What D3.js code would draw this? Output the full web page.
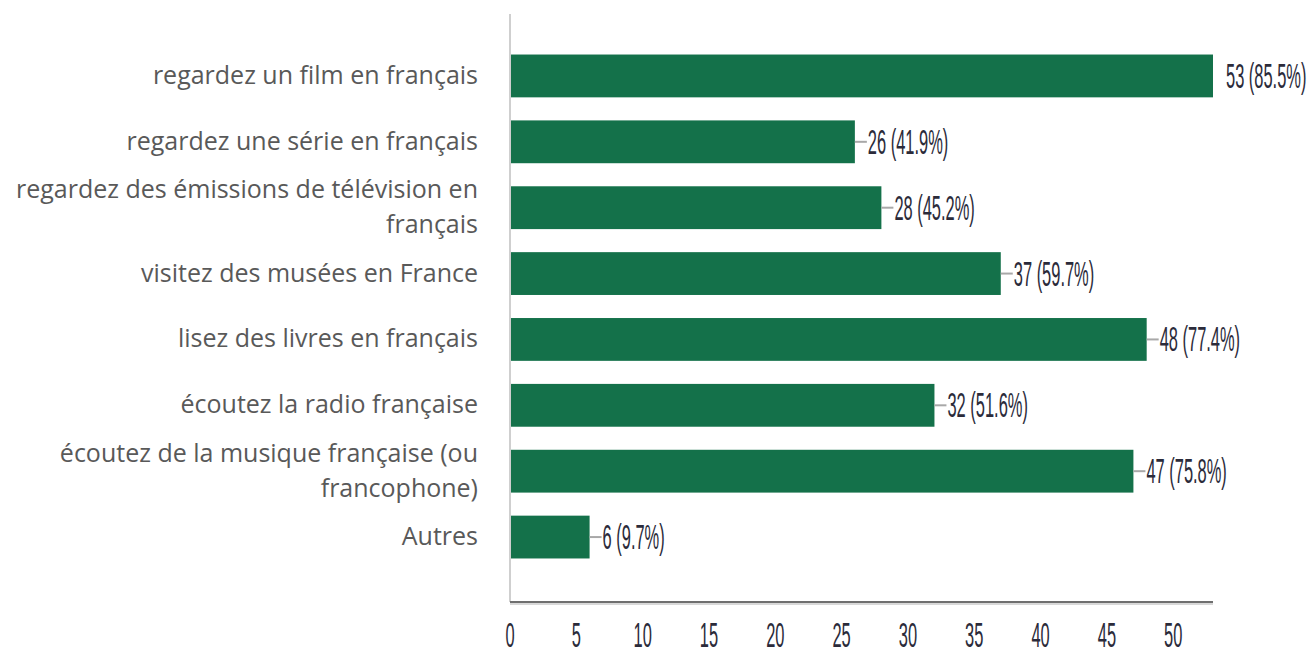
<!DOCTYPE html>
<html><head><meta charset="utf-8">
<script src="https://cdn.jsdelivr.net/npm/d3@7"></script>
<style>body{margin:0;background:#fff}svg{display:block}</style>
</head><body>
<svg id="c" width="1311" height="655"></svg>
<script>
const categories = [
  ["regardez un film en français"],
  ["regardez une série en français"],
  ["regardez des émissions de télévision en", "français"],
  ["visitez des musées en France"],
  ["lisez des livres en français"],
  ["écoutez la radio française"],
  ["écoutez de la musique française (ou", "francophone)"],
  ["Autres"]
];
const counts = [53, 26, 28, 37, 48, 32, 47, 6];
const percents = ["85.5%", "41.9%", "45.2%", "59.7%", "77.4%", "51.6%", "75.8%", "9.7%"];
const ticks = [0, 5, 10, 15, 20, 25, 30, 35, 40, 45, 50];

const svg = d3.select("#c");
const x = d3.scaleLinear().domain([0, 53]).range([510, 1213]);
const y = d3.scaleBand().domain(d3.range(categories.length)).range([43, 570]).paddingInner(0.35).paddingOuter(0.175);

// axis lines
svg.append("line").attr("x1", 510).attr("x2", 510).attr("y1", 14).attr("y2", 602)
  .attr("stroke", "#cfcfcf").attr("stroke-width", 2);
svg.append("line").attr("x1", 510).attr("x2", 1213).attr("y1", 604).attr("y2", 604)
  .attr("stroke", "#d8d8d8").attr("stroke-width", 2);
svg.append("line").attr("x1", 510).attr("x2", 1213).attr("y1", 602).attr("y2", 602)
  .attr("stroke", "#6f6f6f").attr("stroke-width", 2);

// bars
svg.selectAll("rect.bar").data(counts).join("rect")
  .attr("class", "bar")
  .attr("x", x(0) + 1)
  .attr("y", (d, i) => y(i))
  .attr("width", d => x(d) - x(0) - 1)
  .attr("height", y.bandwidth())
  .attr("fill", "#14714a");

// connectors
svg.selectAll("line.conn").data(counts).join("line")
  .attr("class", "conn")
  .attr("x1", d => x(d)).attr("x2", d => x(d) + 12)
  .attr("y1", (d, i) => y(i) + y.bandwidth() / 2)
  .attr("y2", (d, i) => y(i) + y.bandwidth() / 2)
  .attr("stroke", (d, i) => i === 0 ? "none" : "#a8a8a8").attr("stroke-width", 2);

// value labels (condensed)
svg.selectAll("text.val").data(counts).join("text")
  .attr("class", "val")
  .attr("transform", (d, i) => `translate(${x(d) + 13},${y(i) + y.bandwidth() / 2 + 12}) scale(0.47,1)`)
  .attr("font-family", "Liberation Sans, Arial, sans-serif")
  .attr("font-size", 35)
  .attr("fill", "#2b2b3a")
  .text((d, i) => `${d} (${percents[i]})`);

// tick labels
svg.selectAll("text.tick").data(ticks).join("text")
  .attr("class", "tick")
  .attr("transform", d => `translate(${x(d)},${647}) scale(0.47,1)`)
  .attr("text-anchor", "middle")
  .attr("font-family", "Liberation Sans, Arial, sans-serif")
  .attr("font-size", 35)
  .attr("fill", "#2b2b3a")
  .text(d => d);

// category labels
const lh = 35;
const g = svg.selectAll("text.cat").data(categories).join("text")
  .attr("class", "cat")
  .attr("text-anchor", "end")
  .attr("font-family", "Open Sans, sans-serif")
  .attr("font-size", 25)
  .attr("fill", "#595959");
g.each(function(lines, i) {
  const cy = y(i) + y.bandwidth() / 2;
  const t = d3.select(this);
  lines.forEach((ln, k) => {
    t.append("tspan").attr("x", 478)
      .attr("y", cy + 8 + (k - (lines.length - 1) / 2) * lh)
      .text(ln);
  });
});
</script>
</body></html>
